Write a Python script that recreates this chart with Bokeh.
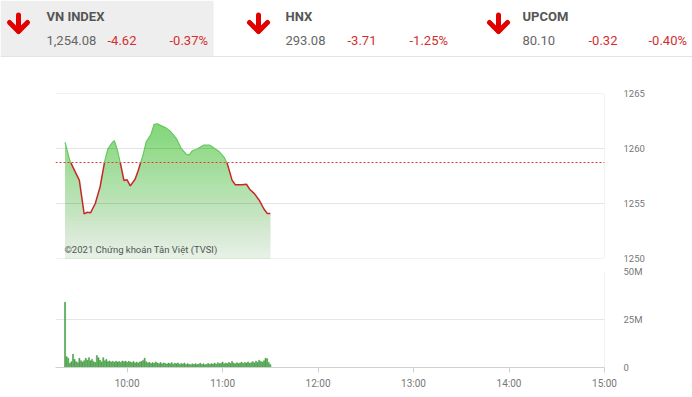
from bokeh.plotting import figure
from bokeh.layouts import column
from bokeh.models import Range1d, FixedTicker, Label
from bokeh.core.properties import value
from bokeh.embed import file_html
from bokeh.resources import INLINE
import numpy as np

# ---------------- data ----------------
idx_names = ["VN INDEX", "HNX", "UPCOM"]
idx_values = ["1,254.08", "293.08", "80.10"]
idx_changes = ["-4.62", "-3.71", "-0.32"]
idx_pcts = ["-0.37%", "-1.25%", "-0.40%"]

ref_price = 1258.70

# minutes after 09:00
price_t = [21, 24, 30, 33, 35, 37, 40, 43, 46, 48, 51, 52, 54, 56, 58, 60, 62, 65, 67, 70,
           72, 75, 77, 79, 81, 84, 87, 91, 94, 97, 99, 101, 104, 108, 112, 115, 118, 121, 123, 126,
           128, 132, 135, 137, 140, 143, 146, 148, 150]
price_v = [1260.57, 1258.9, 1257.1, 1254.06, 1254.2, 1254.15, 1255.0, 1256.5, 1258.9, 1260.0,
           1260.6, 1260.7, 1259.8, 1258.5, 1257.1, 1257.15, 1256.6, 1257.2, 1258.0, 1259.4,
           1260.6, 1261.3, 1262.2, 1262.25, 1262.1, 1261.9, 1261.6, 1260.9, 1260.0, 1259.5,
           1259.4, 1259.8, 1259.95, 1260.3, 1260.3, 1260.0, 1259.7, 1259.2, 1258.6, 1257.1,
           1256.7, 1256.7, 1256.75, 1256.3, 1255.9, 1255.3, 1254.5, 1254.1, 1254.08]

vol_t = list(range(21, 151))
vol_m = [34.0, 5.6, 4.8, 2.2, 3.0, 6.9, 4.2, 3.0, 2.5, 4.8,
         3.5, 2.8, 3.5, 4.8, 3.8, 5.1, 3.5, 4.2, 3.0, 2.6,
         6.2, 5.1, 3.8, 2.9, 5.1, 3.5, 4.2, 3.0, 3.4, 2.8,
         3.2, 2.7, 3.3, 2.9, 3.1, 2.6, 3.4, 3.0, 3.3, 2.7,
         3.2, 2.9, 2.5, 3.1, 2.4, 2.8, 2.3, 2.9, 3.1, 3.6,
         4.8, 3.0, 2.4, 2.7, 2.1, 2.5, 2.2, 2.9, 2.3, 2.0,
         2.6, 1.9, 2.4, 2.1, 1.8, 2.3, 2.0, 2.5, 1.7, 2.2,
         1.9, 2.4, 1.6, 2.1, 1.8, 2.3, 1.5, 2.0, 1.7, 1.4,
         1.9, 1.6, 2.0, 1.5, 1.8, 2.2, 1.6, 1.9, 1.4, 1.7,
         2.1, 1.6, 2.0, 1.8, 2.3, 1.7, 2.5, 1.9, 2.2, 2.8,
         1.9, 2.3, 2.0, 2.6, 2.1, 3.1, 2.2, 1.9, 2.5, 2.0,
         2.4, 2.7, 2.1, 2.6, 2.3, 2.9, 2.2, 2.5, 3.0, 2.4,
         3.3, 2.7, 3.8, 3.1, 2.8, 3.5, 4.8, 4.6, 2.6, 1.5]

time_ticks = [60, 120, 180, 240, 300, 360]
time_labels = ["10:00", "11:00", "12:00", "13:00", "14:00", "15:00"]
price_ticks = [1250, 1255, 1260, 1265]
vol_ticks = [0, 25, 50]
vol_labels = ["0", "25M", "50M"]

FONT = "Roboto"
GRID = "#e6e6e6"
LABEL = "#777777"

# ---------------- header ----------------
hdr = figure(width=692, height=58, x_range=Range1d(0, 692), y_range=Range1d(58, 0),
             toolbar_location=None, output_backend="svg", min_border=0,
             x_axis_location=None, y_axis_location=None)
hdr.frame_align = False
hdr.grid.visible = False
hdr.outline_line_color = None
hdr.quad(left=[0], right=[213], top=[0], bottom=[55.5], fill_color="#eeeeee", line_color=None)
hdr.segment(x0=[0], y0=[56], x1=[692], y1=[56], line_color="#e3e3e3", line_width=1)

arrow_x = [18, 258, 498]
title_x = [46, 285, 522]
chg_x = [107, 347, 588]
pct_x = [169, 409, 648]

xs, ys = [], []
for cx in arrow_x:
    xs.append([cx, cx]); ys.append([14.5, 30.5])
    xs.append([cx - 9, cx, cx + 9]); ys.append([22, 31, 22])
hdr.multi_line(xs=xs, ys=ys, line_color="#e00000", line_width=5,
               line_cap="round", line_join="round")

hdr.text(x=title_x, y=[15.5] * 3, text=idx_names, text_font=value(FONT),
         text_font_style="bold", text_font_size="13px", text_color="#555555",
         text_baseline="middle", text_align="left")
hdr.text(x=title_x, y=[40] * 3, text=idx_values, text_font=value(FONT),
         text_font_size="13px", text_color="#666666",
         text_baseline="middle", text_align="left")
hdr.text(x=chg_x, y=[40] * 3, text=idx_changes, text_font=value(FONT),
         text_font_size="13px", text_color="#d32f2f",
         text_baseline="middle", text_align="left")
hdr.text(x=pct_x, y=[40] * 3, text=idx_pcts, text_font=value(FONT),
         text_font_size="13px", text_color="#d32f2f",
         text_baseline="middle", text_align="left")

# ---------------- price chart ----------------
pf = figure(width=692, height=206, x_range=Range1d(15, 360), y_range=Range1d(1250, 1265),
            toolbar_location=None, output_backend="svg",
            min_border_left=55, min_border_right=88, min_border_top=35, min_border_bottom=6,
            x_axis_location=None, y_axis_location="right")
pf.grid.visible = False
pf.outline_line_color = None

# area fill: solid green, then white veils for a vertical gradient
top_green = "#80d876"
pf.varea(x=price_t, y1=1250, y2=price_v, fill_color=top_green)
N = 40
lo, hi = 1250.0, 1262.5
edges = np.linspace(lo, hi, N + 1)
mids = (edges[:-1] + edges[1:]) / 2
whiteness = 0.92 * (hi - mids) / (hi - lo)
T = 1 - whiteness
b = np.empty(N)
b[N - 1] = 1 - T[N - 1]
b[:-1] = 1 - T[:-1] / T[1:]
pf.quad(left=15, right=360, bottom=lo, top=edges[1:], fill_color="white",
        fill_alpha=b, line_color=None)

# grid lines and right border
pf.hspan(y=price_ticks, line_color="black", line_alpha=0.1, line_width=1)
pf.vspan(x=[360], line_color=GRID, line_width=1)

# reference line
pf.hspan(y=[ref_price], line_color="#e53935", line_dash="2 2", line_width=1)

# price line split at the reference level
lx, ly = [price_t[0]], [price_v[0]]
for i in range(len(price_t) - 1):
    y0, y1 = price_v[i], price_v[i + 1]
    if (y0 - ref_price) * (y1 - ref_price) < 0:
        f = (ref_price - y0) / (y1 - y0)
        lx.append(price_t[i] + f * (price_t[i + 1] - price_t[i]))
        ly.append(ref_price)
    lx.append(price_t[i + 1]); ly.append(y1)
lx = np.array(lx, dtype=float); ly = np.array(ly, dtype=float)
red_y = np.where(ly <= ref_price + 1e-9, ly, np.nan)
grn_y = np.where(ly >= ref_price - 1e-9, ly, np.nan)
pf.line(lx, grn_y, line_color="#66c866", line_width=1.2)
pf.line(lx, red_y, line_color="#c62828", line_width=1.5)

pf.add_layout(Label(x=20.6, y=1250.8, text="©2021 Chứng khoán Tân Việt (TVSI)",
                    text_font=FONT, text_font_size="9.5px", text_color="#555555",
                    text_baseline="middle", text_align="left"))

ax = pf.yaxis[0]
ax.ticker = FixedTicker(ticks=price_ticks)
ax.axis_line_color = None
ax.major_tick_line_color = None
ax.minor_tick_line_color = None
ax.major_label_standoff = 13
ax.major_label_text_font = FONT
ax.major_label_text_font_size = "9.5px"
ax.major_label_text_color = LABEL

# ---------------- volume chart ----------------
vf = figure(width=692, height=133, x_range=pf.x_range, y_range=Range1d(0, 50),
            toolbar_location=None, output_backend="svg",
            min_border_left=55, min_border_right=88, min_border_top=7, min_border_bottom=30,
            y_axis_location="right")
vf.xgrid.visible = False
vf.ygrid.ticker = FixedTicker(ticks=[25, 50])
vf.ygrid.grid_line_color = GRID
vf.outline_line_color = None
vf.vspan(x=[360], line_color=GRID, line_width=1)
vf.vbar(x=vol_t, top=vol_m, width=0.7, fill_color="#55b455", line_color="#3a8f3a",
        line_width=0.5)

xa = vf.xaxis[0]
xa.ticker = FixedTicker(ticks=time_ticks)
xa.major_label_overrides = {t: l for t, l in zip(time_ticks, time_labels)}
xa.axis_line_color = "#d0d0d0"
xa.major_tick_line_color = "#d0d0d0"
xa.major_tick_in = 0
xa.major_tick_out = 5
xa.minor_tick_line_color = None
xa.major_label_standoff = 5
xa.major_label_text_font = FONT
xa.major_label_text_font_size = "10px"
xa.major_label_text_color = LABEL

ya = vf.yaxis[0]
ya.ticker = FixedTicker(ticks=vol_ticks)
ya.major_label_overrides = {t: l for t, l in zip(vol_ticks, vol_labels)}
ya.axis_line_color = None
ya.major_tick_line_color = None
ya.minor_tick_line_color = None
ya.major_label_standoff = 13
ya.major_label_text_font = FONT
ya.major_label_text_font_size = "9.5px"
ya.major_label_text_color = LABEL

layout = column(hdr, pf, vf, spacing=0)
open("out.html", "w").write(file_html(layout, INLINE))
